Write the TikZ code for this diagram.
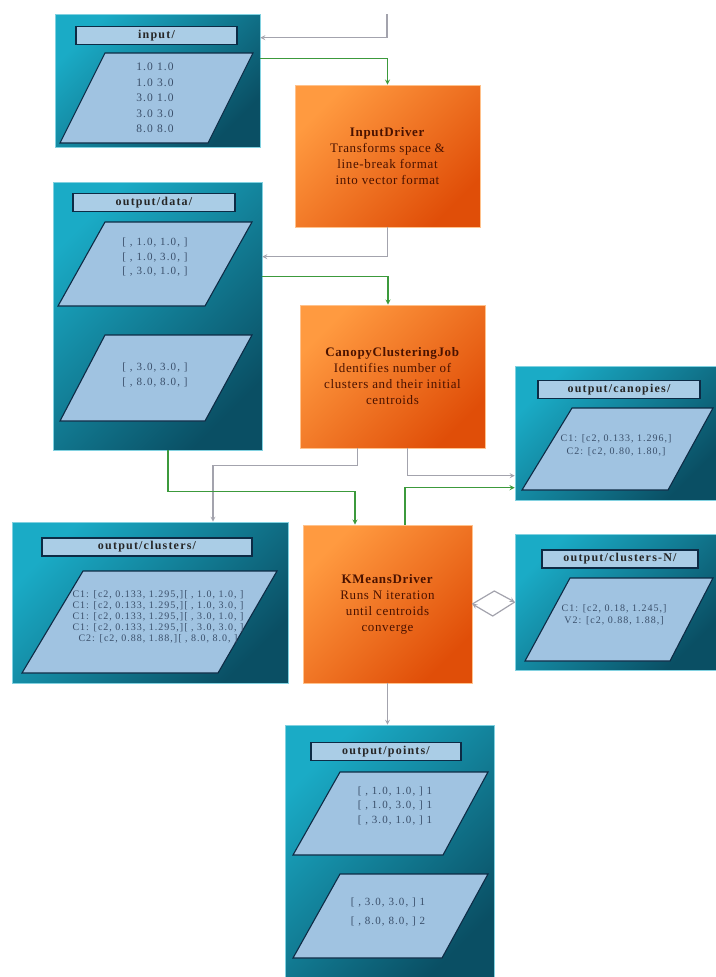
\documentclass[tikz,border=0pt]{standalone}
\usepackage{fontspec}
\setmainfont{Liberation Serif}
\newfontfamily\jobfont[LetterSpace=5]{Liberation Serif}
\newfontfamily\datafont[LetterSpace=10]{Liberation Serif}
\usetikzlibrary{arrows}

\definecolor{tealhi}{HTML}{1AABC6}
\definecolor{tealdk}{HTML}{0A4F64}
\definecolor{barfill}{HTML}{AACDE6}
\definecolor{slabfill}{HTML}{A0C3E1}
\definecolor{navyline}{HTML}{0D2B45}
\definecolor{rowtext}{HTML}{3A4F6A}
\definecolor{orangehi}{HTML}{FF9A40}
\definecolor{orangedk}{HTML}{E04E08}
\definecolor{jobtext}{HTML}{4A1200}
\definecolor{wiregray}{HTML}{A3A3AD}
\definecolor{wiregreen}{HTML}{3C9A3C}

\begin{document}
\begin{tikzpicture}[x=1pt, y=-1pt, >=stealth,
  container/.style={draw=tealhi!55!white, line width=0.6pt, top color=tealhi, bottom color=tealdk, shading angle=45, inner sep=0pt},
  jobbox/.style={draw=orangehi!60!white, line width=0.6pt, top color=orangehi, bottom color=orangedk, shading angle=45, inner sep=0pt, align=center, text=jobtext, font=\jobfont\fontsize{13}{16}\selectfont},
  titlebar/.style={draw=navyline, line width=1.3pt, fill=barfill, minimum height=18pt, inner sep=0pt, text=black!85, font=\datafont\bfseries\fontsize{12}{14}\selectfont},
  slab/.style={draw=navyline, line width=1.1pt, fill=slabfill},
  rows/.style={align=center, text=rowtext, inner sep=0pt, font=\datafont\fontsize{11}{14.5}\selectfont},
  graywire/.style={draw=wiregray, line width=1.2pt, ->},
  greenwire/.style={draw=wiregreen, line width=1.3pt, ->}
]
\useasboundingbox (0,0) rectangle (715,977);

% input/
\node[container, minimum width=205pt, minimum height=133pt] (inbox) at (157.5,80.5) {};
\node[titlebar, minimum width=161pt] (intitle) at (156.5,35.5) {input/};
\draw[slab] (105,53) -- (253,53) -- (208,143) -- (60,143) -- cycle;
\node[rows, font=\datafont\fontsize{11.5}{15.5}\selectfont] (inrows) at (155,98) {1.0 1.0\\1.0 3.0\\3.0 1.0\\3.0 3.0\\8.0 8.0};

% output/data/
\node[container, minimum width=209pt, minimum height=268pt] (databox) at (157.5,316) {};
\node[titlebar, minimum width=162pt] (datatitle) at (154,202.5) {output/data/};
\draw[slab] (105,222) -- (252,222) -- (205,306) -- (58,306) -- cycle;
\node[rows] (datarowsa) at (155,257.5) {{[} , 1.0, 1.0, ]\\{[} , 1.0, 3.0, ]\\{[} , 3.0, 1.0, ]};
\draw[slab] (105,335) -- (252,335) -- (205,421) -- (60,421) -- cycle;
\node[rows] (datarowsb) at (155,375) {{[} , 3.0, 3.0, ]\\{[} , 8.0, 8.0, ]};

% jobs
\node[jobbox, minimum width=185pt, minimum height=142pt] (indrv) at (387.5,156) {\textbf{InputDriver}\\Transforms space \&\\line-break format\\into vector format};
\node[jobbox, minimum width=185pt, minimum height=143pt] (canopy) at (392.5,376.5) {\textbf{CanopyClusteringJob}\\Identifies number of\\clusters and their initial\\centroids};
\node[jobbox, minimum width=169pt, minimum height=158pt] (kmeans) at (387.5,604) {\textbf{KMeansDriver}\\Runs N iteration\\until centroids\\converge};

% output/canopies/
\node[container, minimum width=202pt, minimum height=134pt] (canbox) at (616,433) {};
\node[titlebar, minimum width=162pt] (cantitle) at (619,389.5) {output/canopies/};
\draw[slab] (572,408) -- (713,408) -- (668,490) -- (522,490) -- cycle;
\node[rows, font=\datafont\fontsize{10}{13}\selectfont] (canrows) at (616,445.5) {C1: [c2, 0.133, 1.296,]\\C2: [c2, 0.80, 1.80,]};

% output/clusters/
\node[container, minimum width=276pt, minimum height=161pt] (clbox) at (150,602.5) {};
\node[titlebar, minimum width=210pt] (cltitle) at (147,547) {output/clusters/};
\draw[slab] (83,571) -- (277,571) -- (218,673) -- (22,673) -- cycle;
\node[rows, font=\datafont\fontsize{10}{11}\selectfont] (clrows) at (158,617) {C1: [c2, 0.133, 1.295,][ , 1.0, 1.0, ]\\C1: [c2, 0.133, 1.295,][ , 1.0, 3.0, ]\\C1: [c2, 0.133, 1.295,][ , 3.0, 1.0, ]\\C1: [c2, 0.133, 1.295,][ , 3.0, 3.0, ]\\C2: [c2, 0.88, 1.88,][ , 8.0, 8.0, ]};

% output/clusters-N/
\node[container, minimum width=202pt, minimum height=136pt] (clnbox) at (616,602) {};
\node[titlebar, minimum width=156pt] (clntitle) at (620,559) {output/clusters-N/};
\draw[slab] (570,578) -- (713,578) -- (670,661) -- (525,661) -- cycle;
\node[rows, font=\datafont\fontsize{10}{12}\selectfont] (clnrows) at (614,614.5) {C1: [c2, 0.18, 1.245,]\\V2: [c2, 0.88, 1.88,]};

% output/points/
\node[container, minimum width=209pt, minimum height=255pt] (ptbox) at (389.5,852.5) {};
\node[titlebar, minimum width=150pt] (pttitle) at (386,751.5) {output/points/};
\draw[slab] (340,772) -- (488,772) -- (443,855) -- (293,855) -- cycle;
\node[rows] (ptrowsa) at (395,806) {{[} , 1.0, 1.0, ] 1\\{[} , 1.0, 3.0, ] 1\\{[} , 3.0, 1.0, ] 1};
\draw[slab] (340,874) -- (488,874) -- (442,958) -- (293,958) -- cycle;
\node[rows, font=\datafont\fontsize{11}{19}\selectfont] (ptrowsb) at (388,912) {{[} , 3.0, 3.0, ] 1\\{[} , 8.0, 8.0, ] 2};

% connectors
\coordinate (feed) at (387,14);
\draw[graywire] (feed) |- ([yshift=-24pt]inbox.north east);
\draw[greenwire] ([yshift=-45pt]inbox.north east) -| (indrv.north);
\draw[graywire] (indrv.south) |- ([yshift=-75pt]databox.north east);
\draw[greenwire] ([yshift=-95pt]databox.north east) -| ([xshift=-4.5pt]canopy.north);
\draw[graywire] ([xshift=-35pt]canopy.south) -- ++(0,17) -| ([xshift=63pt]clbox.north);
\draw[graywire] ([xshift=15pt]canopy.south) |- ([yshift=-110pt]canbox.north west);
\draw[greenwire] ([xshift=10.5pt]databox.south) -- ++(0,41) -| ([xshift=-32.5pt]kmeans.north);
\draw[greenwire] ([xshift=17.5pt]kmeans.north) |- ([yshift=-122pt]canbox.north west);
\draw[graywire] (kmeans.east) -- ++(22,-13) -- (clnbox.west);
\draw[graywire] (clnbox.west) -- ++(-22,14) -- (kmeans.east);
\draw[graywire] (kmeans.south) -- (kmeans.south |- ptbox.north);
\end{tikzpicture}
\end{document}
